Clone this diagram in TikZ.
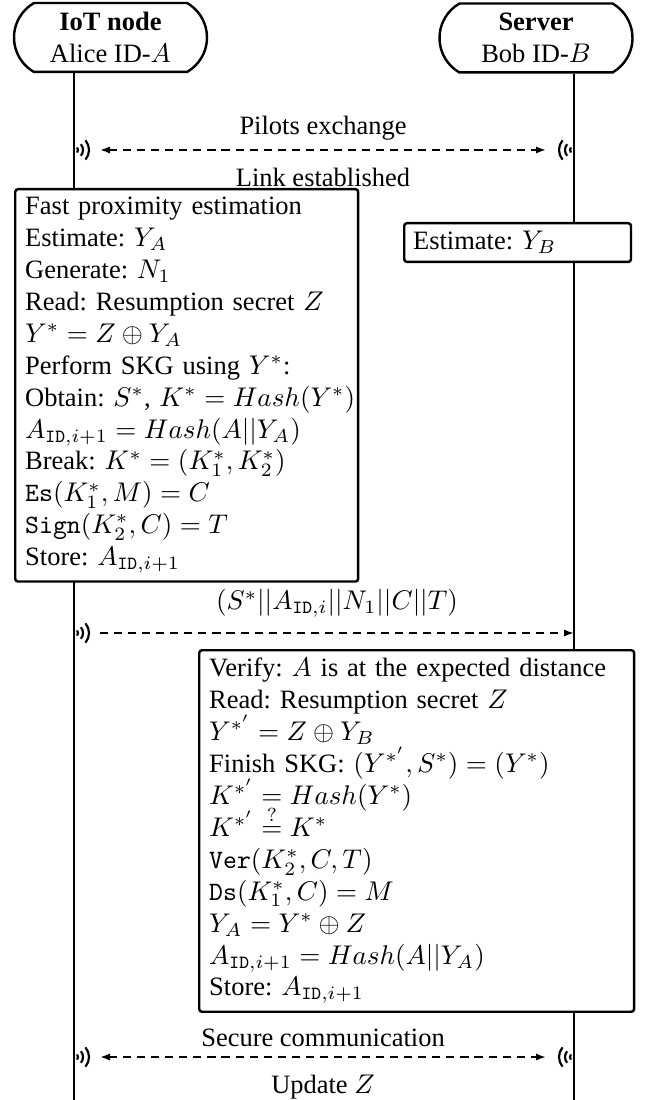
\documentclass[tikz,border=0pt]{standalone}
\usepackage{amsmath}
\usepackage[no-math]{fontspec}
\setmainfont{Liberation Serif}
\usetikzlibrary{positioning}
\usetikzlibrary{shapes.misc,arrows.meta}
\frenchspacing

\begin{document}
\begin{tikzpicture}[x=0.37pt,y=-0.37pt,>={Latex[length=3.7pt,width=2.7pt]},
  font=\fontsize{9.8}{11.8}\selectfont,
  actor/.style={rounded rectangle,rounded rectangle arc length=120,draw,line width=0.9pt,minimum width=71.4pt,minimum height=25.5pt,inner sep=0pt,align=center},
  stepbox/.style={rectangle,draw,fill=white,line width=0.9pt,rounded corners=1pt,align=left,anchor=north west,inner xsep=3.7pt,inner ysep=3pt,execute at begin node={\lineskiplimit=-20pt\relpenalty=10000\binoppenalty=10000\relax}},
  msg/.style={dash pattern=on 3pt off 2.2pt,line width=0.7pt},
  wave/.style={line width=0.8pt},
  lifeline/.style={line width=0.7pt}]
\useasboundingbox (0,0) rectangle (646,1100);

% participants
\node[actor] (alice) at (110.5,37.5) {\textbf{IoT node}\\Alice ID-$A$};
\node[actor] (bob) at (536,38) {\textbf{Server}\\Bob ID-$B$};
\coordinate (aliceEnd) at (74,1100);
\coordinate (bobEnd) at (574,1100);
\draw[lifeline] (alice.south -| aliceEnd) -- (aliceEnd);
\draw[lifeline] (bob.south -| bobEnd) -- (bobEnd);

% radio icons
\foreach \y in {150,633,1057}
  \foreach \r in {4,9,15}
    \draw[wave] (74,\y) ++(-40:\r) arc[start angle=-40,end angle=40,radius=\r];
\foreach \y in {150,1057}
  \foreach \r in {4,9,15}
    \draw[wave] (574,\y) ++(140:\r) arc[start angle=140,end angle=220,radius=\r];

% pilots
\coordinate (pilA) at (100,150);
\coordinate (pilB) at (546,150);
\draw[msg,<->] (pilA) -- node[above] (pilots) {Pilots exchange} node[below,yshift=-3pt] (link) {Link established} (pilB);

% alice steps
\node[stepbox,text width=119.5pt] (aliceSteps) at (14,188) {Fast proximity estimation\\
Estimate: $Y_A$\\
Generate: $N_1$\\
Read: Resumption secret $Z$\\
$Y^* = Z \oplus Y_A$\\
Perform SKG using $Y^*$:\\
\mbox{Obtain: $S^*$, $K^* = Hash(Y^*)$}\\
$A_{\texttt{ID},i+1} = Hash(A||Y_A)$\\
Break: $K^* = (K_1^*, K_2^*)$\\
$\texttt{Es}(K_1^*, M) = C$\\
$\texttt{Sign}(K_2^*, C) = T$\\
Store: $A_{\texttt{ID},i+1}$};

\node[stepbox,text width=77.3pt,inner xsep=3.3pt] (bobEst) at (403,222) {Estimate: $Y_B$};

% data
\coordinate (dataA) at (100,633);
\coordinate (dataB) at (574,633);
\draw[msg,->] (dataA) -- node[above,yshift=2pt] (data) {$(S^*||A_{\texttt{ID},i}||N_1||C||T)$} (dataB);

% bob steps
\node[stepbox,text width=153.5pt] (bobSteps) at (198,649) {Verify: $A$ is at the expected distance\\
Read: Resumption secret $Z$\\
$Y^{*'} = Z \oplus Y_B$\\
Finish SKG: $(Y^{*'}, S^*) = (Y^*)$\\
$K^{*'} = Hash(Y^*)$\\
$K^{*'} \overset{?}{=} K^*$\\
$\texttt{Ver}(K_2^*, C, T)$\\
$\texttt{Ds}(K_1^*, C) = M$\\
$Y_A = Y^* \oplus Z$\\
$A_{\texttt{ID},i+1} = Hash(A||Y_A)$\\
Store: $A_{\texttt{ID},i+1}$};

% secure
\coordinate (secA) at (100,1057);
\coordinate (secB) at (546,1057);
\draw[msg,<->] (secA) -- node[above] (secure) {Secure communication} node[below,yshift=-3pt] (update) {Update $Z$} (secB);

\end{tikzpicture}
\end{document}
